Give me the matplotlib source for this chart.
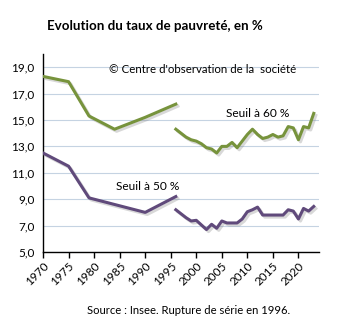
import matplotlib
matplotlib.use("Agg")
import matplotlib.pyplot as plt
import matplotlib.patheffects as pe
from matplotlib.ticker import FuncFormatter

plt.rcParams["font.family"] = ["Lato", "DejaVu Sans"]

# ----------------------------
# Data
# ----------------------------
old_years = [1970, 1975, 1979, 1984, 1990, 1996]
old_60 = [18.3, 17.9, 15.3, 14.3, 15.2, 16.2]
old_50 = [12.5, 11.5, 9.1, 8.6, 8.0, 9.2]

new_years = list(range(1996, 2024))
new_60 = [14.3, 14.0, 13.7, 13.5, 13.4, 13.2, 12.9, 12.8, 12.5, 13.0,
          13.0, 13.3, 12.9, 13.4, 13.9, 14.3, 13.9, 13.6, 13.7, 13.9,
          13.7, 13.8, 14.5, 14.4, 13.5, 14.5, 14.4, 15.5]
new_50 = [8.2, 7.9, 7.6, 7.35, 7.4, 7.05, 6.7, 7.1, 6.8, 7.35,
          7.2, 7.2, 7.2, 7.5, 8.05, 8.2, 8.4, 7.8, 7.8, 7.8,
          7.8, 7.8, 8.2, 8.1, 7.5, 8.3, 8.1, 8.45]

x_ticks = list(range(1970, 2021, 5))
y_ticks = [5, 7, 9, 11, 13, 15, 17, 19]

green = "#77933C"
purple = "#604A7B"

# ----------------------------
# Plot
# ----------------------------
fig = plt.figure(figsize=(3.5, 3.29), dpi=100)
ax = fig.add_axes([0.123, 0.234, 0.788, 0.602])

shadow = [pe.SimpleLineShadow(offset=(1.5, -1.5), shadow_color="gray", alpha=0.3),
          pe.Normal()]

for xs, ys, c in [(old_years, old_60, green), (new_years, new_60, green),
                  (old_years, old_50, purple), (new_years, new_50, purple)]:
    ax.plot(xs, ys, color=c, linewidth=2.2, solid_joinstyle="round",
            path_effects=shadow, zorder=3)

ax.set_xlim(1970, 2024)
ax.set_ylim(5, 20)
ax.set_xticks(x_ticks)
ax.set_yticks(y_ticks)
ax.yaxis.set_major_formatter(FuncFormatter(lambda v, p: f"{v:.1f}".replace(".", ",")))

ax.grid(axis="y", color="#C5D3E2", linewidth=0.8, zorder=0)
ax.set_axisbelow(True)

for s in ["top", "right"]:
    ax.spines[s].set_visible(False)
ax.spines["left"].set_linewidth(1.0)
ax.spines["bottom"].set_linewidth(1.0)

ax.tick_params(axis="y", length=0, labelsize=8.5, pad=6)
ax.tick_params(axis="x", length=4, width=1, direction="out", labelsize=8.5, pad=2)
for lbl in ax.get_xticklabels():
    lbl.set_rotation(45)
    lbl.set_ha("right")
    lbl.set_rotation_mode("anchor")

# ----------------------------
# Texts
# ----------------------------
fig.text(0.134, 0.92, "Evolution du taux de pauvreté, en %",
         fontsize=9.6, fontweight="bold", va="center", ha="left")
ax.text(0.24, 0.92, "© Centre d'observation de la  société",
        transform=ax.transAxes, fontsize=8.3, va="center", ha="left")
ax.text(0.665, 0.7, "Seuil à 60 %", transform=ax.transAxes,
        fontsize=8.6, va="center", ha="left")
ax.text(0.265, 0.33, "Seuil à 50 %", transform=ax.transAxes,
        fontsize=8.6, va="center", ha="left")
fig.text(0.54, 0.057, "Source : Insee. Rupture de série en 1996.",
         fontsize=8.1, va="center", ha="center")

fig.savefig("out.png", dpi=100)
